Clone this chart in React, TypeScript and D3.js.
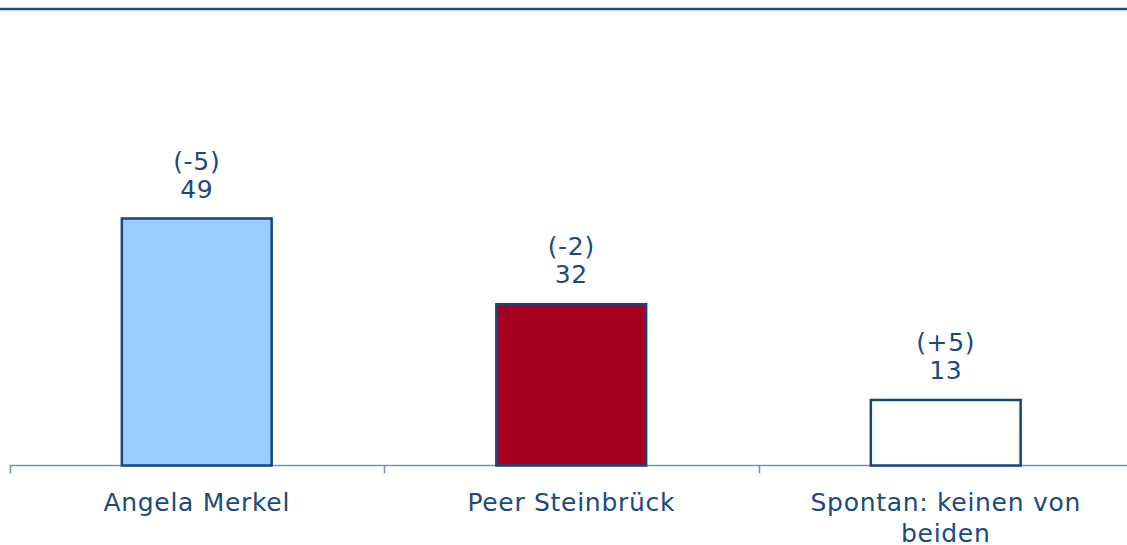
import React from "react";
import * as d3 from "d3";

const categories = ["Angela Merkel", "Peer Steinbrück", "Spontan: keinen von beiden"];
const values = [49, 32, 13];
const changes = ["(-5)", "(-2)", "(+5)"];
const fills = ["#99ccff", "#a50021", "#ffffff"];

const W = 1127;
const H = 545;
const baseY = 465.5;

export default function App() {
  const x = d3.scaleBand<string>().domain(categories).range([9.5, 1133]).paddingInner(0.6).paddingOuter(0.3);
  const y = d3.scaleLinear().domain([0, 49]).range([baseY, 218.5]);
  const step = x.step();
  const font = "'DejaVu Sans', Verdana, sans-serif";
  const textColor = "#1a4a7e";
  const fs = 25;
  const ls = 0.7;
  const lines = (c: string) => (c === "Spontan: keinen von beiden" ? ["Spontan: keinen von", "beiden"] : [c]);
  return (
    <svg width={W} height={H} style={{ position: "absolute", left: 0, top: 0 }}>
      <rect x={0} y={0} width={W} height={H} fill="#fff" />
      <line x1={0} x2={W} y1={9} y2={9} stroke="#1f4e7e" strokeWidth={2.5} />
      <line x1={9.5} x2={W} y1={baseY} y2={baseY} stroke="#7392b4" strokeWidth={1.5} />
      {categories.map((c, i) => {
        const tx = Math.round(9.5 + i * step) + 0.5;
        return <line key={"t" + i} x1={tx} x2={tx} y1={baseY} y2={baseY + 8} stroke="#7392b4" strokeWidth={1.5} />;
      })}
      {categories.map((c, i) => {
        const bx = x(c)!;
        const by = y(values[i]);
        const cx = bx + x.bandwidth() / 2;
        return (
          <g key={c}>
            <rect x={bx} y={by} width={x.bandwidth()} height={baseY - by} fill={fills[i]} stroke="#14467e" strokeWidth={2.5} />
            <text x={cx} y={by - 49} textAnchor="middle" fontFamily={font} fontSize={fs} letterSpacing={ls} fill={textColor}>{changes[i]}</text>
            <text x={cx} y={by - 21} textAnchor="middle" fontFamily={font} fontSize={fs} letterSpacing={ls} fill={textColor}>{values[i]}</text>
            {lines(c).map((l, j) => (
              <text key={j} x={cx} y={510.5 + j * 31} textAnchor="middle" fontFamily={font} fontSize={fs} letterSpacing={ls} fill={textColor}>{l}</text>
            ))}
          </g>
        );
      })}
    </svg>
  );
}
